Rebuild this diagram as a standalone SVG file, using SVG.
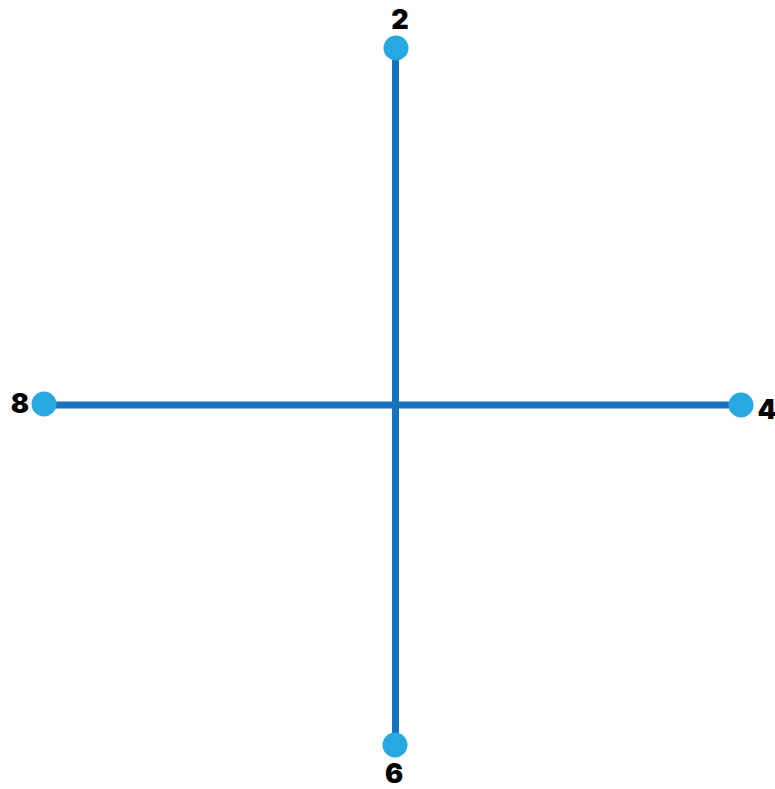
<svg xmlns="http://www.w3.org/2000/svg" width="775" height="789" viewBox="0 0 775 789">
<style>
.edge{stroke:#1572bf;stroke-width:7;fill:none}
.dot{fill:#29a7e1}
.lbl{font-family:Inter,"Liberation Sans",Arial,sans-serif;font-weight:900;font-size:27px;fill:#000}
</style>
<rect width="775" height="789" fill="#fff"/>
<g id="connectors">
<line class="edge" x1="395.5" y1="48" x2="395.5" y2="745"/>
<line class="edge" x1="44" y1="405" x2="741" y2="405"/>
</g>
<g id="node-2"><circle class="dot" cx="396" cy="48" r="12.5"/><text class="lbl" x="400" y="29" text-anchor="middle">2</text></g>
<g id="node-8"><circle class="dot" cx="44" cy="404" r="12.5"/><text class="lbl" x="20" y="413" text-anchor="middle">8</text></g>
<g id="node-4"><circle class="dot" cx="741" cy="405" r="12.5"/><text class="lbl" x="767" y="419" text-anchor="middle">4</text></g>
<g id="node-6"><circle class="dot" cx="395" cy="745" r="12.5"/><text class="lbl" x="394" y="783" text-anchor="middle">6</text></g>
</svg>
